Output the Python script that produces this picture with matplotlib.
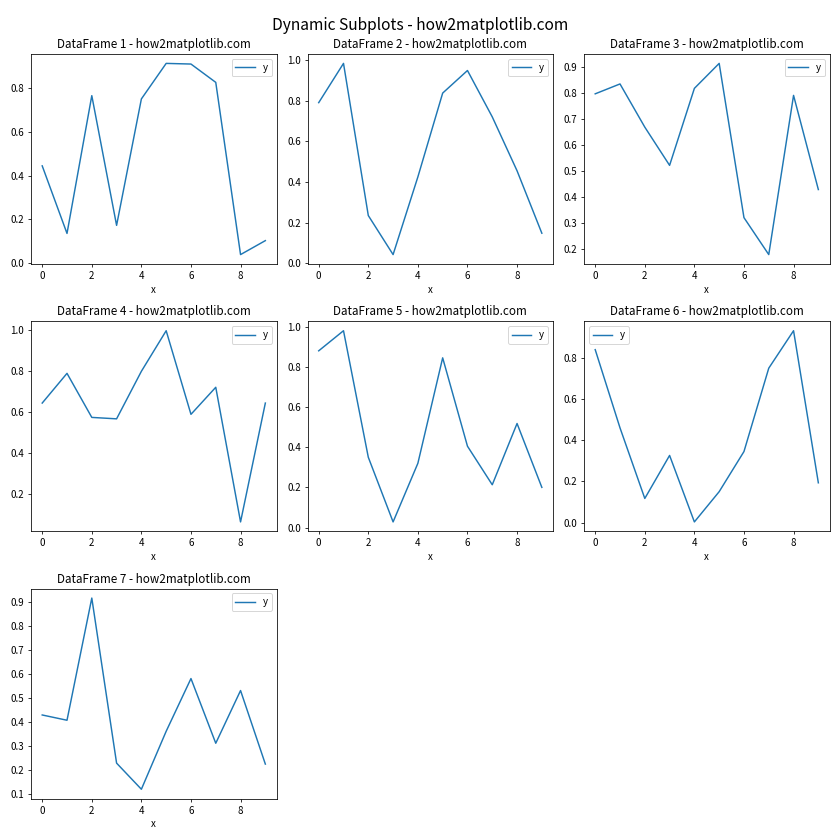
import numpy as np
import pandas as pd
import matplotlib
matplotlib.use("Agg")
import matplotlib.pyplot as plt

plt.rcParams['font.family'] = ['Noto Sans CJK SC', 'DejaVu Sans']

x = list(range(10))
y1 = [0.445, 0.135, 0.767, 0.172, 0.752, 0.915, 0.912, 0.828, 0.038, 0.102]
y2 = [0.790, 0.983, 0.235, 0.043, 0.425, 0.837, 0.948, 0.720, 0.455, 0.148]
y3 = [0.796, 0.834, 0.668, 0.521, 0.817, 0.913, 0.320, 0.178, 0.790, 0.428]
y4 = [0.645, 0.790, 0.575, 0.568, 0.800, 0.998, 0.590, 0.722, 0.065, 0.645]
y5 = [0.880, 0.980, 0.350, 0.028, 0.320, 0.845, 0.405, 0.213, 0.518, 0.200]
y6 = [0.840, 0.460, 0.117, 0.326, 0.003, 0.150, 0.345, 0.750, 0.932, 0.193]
y7 = [0.428, 0.406, 0.916, 0.227, 0.118, 0.360, 0.580, 0.310, 0.530, 0.223]

dataframes = [pd.DataFrame({'x': x, 'y': y}) for y in [y1, y2, y3, y4, y5, y6, y7]]

n = len(dataframes)
cols = 3
rows = (n + cols - 1) // cols

fig, axes = plt.subplots(rows, cols, figsize=(12, 12), dpi=70)
axes = axes.flatten()

for i, df in enumerate(dataframes):
    df.plot(x='x', y='y', ax=axes[i])
    axes[i].set_title(f'DataFrame {i+1} - how2matplotlib.com')

# leftover axes
for j in range(n, len(axes)):
    fig.delaxes(axes[j])

fig.suptitle('Dynamic Subplots - how2matplotlib.com', fontsize=16)
plt.tight_layout()
plt.savefig("out.png")
